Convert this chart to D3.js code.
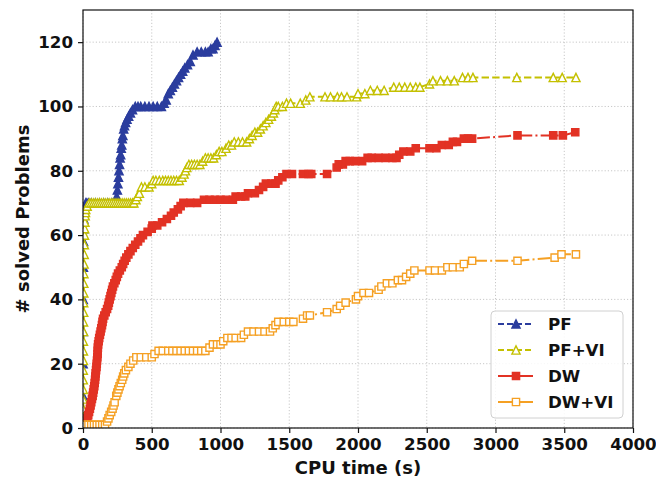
<!DOCTYPE html>
<html>
<head>
<meta charset="utf-8">
<script src="https://cdn.jsdelivr.net/npm/d3@7"></script>
<style>
  html, body { margin: 0; padding: 0; background: #fff; }
  #chart { width: 656px; height: 479px; }
  text { font-family: "DejaVu Sans", sans-serif; font-weight: bold; fill: #111; }
</style>
</head>
<body>
<div id="chart"></div>
<script>
// solved-problem curves: time (s) and # solved
const pfTime = [0, 1, 1, 2, 2, 3, 4, 5, 6, 8, 10, 14, 20, 28, 40, 60, 90, 120, 150, 180, 210, 235, 245, 250, 254, 258, 262, 266, 270, 274, 278, 282, 286, 290, 296, 302, 310, 320, 332, 345, 360, 380, 400, 420, 450, 480, 510, 540, 570, 590, 605, 620, 635, 650, 665, 680, 695, 710, 725, 740, 760, 780, 800, 830, 860, 890, 910, 930, 945, 960, 975];
const pfSolved = [0, 10, 20, 30, 40, 50, 58, 62, 65, 67, 68, 69, 70, 70, 70, 70, 70, 70, 70, 70, 70, 70, 72, 74, 76, 78, 80, 82, 84, 85, 87, 88, 90, 91, 93, 94, 95, 96, 97, 98, 99, 100, 100, 100, 100, 100, 100, 100, 100, 101, 102, 104, 105, 106, 107, 108, 109, 110, 111, 112, 113, 114, 116, 117, 117, 117, 117, 118, 118, 119, 120];

const pfviTime = [0, 1, 1, 1, 2, 2, 2, 3, 3, 3, 4, 4, 5, 5, 6, 6, 7, 8, 9, 10, 11, 12, 14, 16, 18, 20, 30, 45, 60, 75, 90, 105, 120, 135, 150, 165, 180, 195, 210, 225, 240, 255, 270, 285, 300, 315, 330, 345, 360, 370, 385, 395, 410, 425, 450, 480, 500, 510, 530, 555, 580, 600, 620, 640, 660, 680, 700, 720, 735, 745, 755, 770, 790, 810, 830, 850, 870, 890, 910, 930, 950, 970, 990, 1010, 1040, 1060, 1080, 1100, 1130, 1160, 1190, 1210, 1230, 1250, 1270, 1290, 1310, 1330, 1350, 1370, 1385, 1395, 1405, 1420, 1450, 1480, 1510, 1580, 1620, 1650, 1760, 1800, 1850, 1880, 1920, 1990, 2000, 2050, 2090, 2140, 2190, 2260, 2300, 2340, 2380, 2420, 2450, 2520, 2545, 2600, 2650, 2700, 2760, 2800, 2836, 3155, 3420, 3485, 3585];
const pfviSolved = [0, 3, 6, 9, 12, 15, 18, 21, 24, 27, 30, 33, 36, 39, 42, 45, 48, 51, 54, 57, 60, 62, 64, 66, 67, 68, 69, 70, 70, 70, 70, 70, 70, 70, 70, 70, 70, 70, 70, 70, 70, 70, 70, 70, 70, 70, 70, 70, 70, 70, 71, 72, 73, 75, 75, 75, 76, 77, 77, 77, 77, 77, 77, 77, 77, 77, 77, 78, 79, 80, 81, 82, 82, 82, 82, 82, 83, 84, 84, 84, 84, 85, 86, 86, 87, 88, 88, 89, 89, 89, 89, 90, 91, 92, 92, 93, 94, 95, 96, 97, 98, 99, 100, 100, 100, 101, 101, 101, 102, 103, 103, 103, 103, 103, 103, 103, 104, 104, 105, 105, 105, 106, 106, 106, 106, 106, 106, 107, 108, 108, 108, 108, 109, 109, 109, 109, 109, 109, 109];

const dwTime = [15, 25, 32, 38, 44, 50, 55, 60, 65, 70, 74, 78, 82, 85, 88, 90, 92, 95, 98, 100, 102, 104, 106, 107, 108, 110, 114, 118, 123, 128, 133, 138, 142, 146, 155, 165, 175, 183, 188, 194, 200, 206, 212, 218, 228, 238, 246, 255, 268, 282, 292, 303, 315, 330, 345, 362, 380, 400, 418, 436, 470, 500, 505, 540, 575, 610, 640, 660, 690, 710, 730, 780, 830, 880, 920, 960, 1000, 1040, 1090, 1110, 1150, 1180, 1200, 1250, 1280, 1310, 1330, 1370, 1400, 1420, 1450, 1480, 1520, 1600, 1640, 1660, 1775, 1845, 1860, 1890, 1910, 1940, 1980, 2030, 2070, 2100, 2150, 2200, 2250, 2280, 2300, 2330, 2380, 2420, 2520, 2570, 2610, 2660, 2690, 2720, 2770, 2800, 2830, 3160, 3420, 3490, 3580];
const dwSolved = [1, 2, 3, 4, 5, 6, 7, 8, 9, 10, 11, 12, 13, 14, 15, 16, 17, 18, 19, 20, 21, 22, 23, 24, 25, 26, 27, 28, 29, 30, 31, 32, 33, 34, 35, 36, 37, 38, 39, 40, 41, 42, 43, 44, 45, 46, 47, 48, 49, 50, 51, 52, 53, 54, 55, 56, 57, 58, 59, 60, 61, 62, 63, 63, 64, 65, 66, 67, 68, 69, 70, 70, 70, 71, 71, 71, 71, 71, 71, 72, 72, 72, 73, 73, 74, 75, 76, 76, 76, 77, 78, 79, 79, 79, 79, 79, 79, 81, 82, 82, 83, 83, 83, 83, 84, 84, 84, 84, 84, 84, 85, 86, 86, 87, 87, 87, 88, 88, 89, 89, 90, 90, 90, 91, 91, 91, 92];

const dwviTime = [5, 20, 40, 60, 80, 100, 120, 140, 160, 175, 185, 194, 205, 215, 222, 230, 242, 250, 258, 266, 275, 285, 292, 300, 312, 330, 345, 365, 388, 420, 460, 500, 520, 550, 580, 620, 650, 680, 710, 740, 770, 800, 830, 860, 890, 920, 945, 975, 1000, 1020, 1050, 1080, 1110, 1150, 1170, 1200, 1240, 1280, 1320, 1360, 1380, 1400, 1420, 1460, 1500, 1530, 1600, 1630, 1650, 1775, 1845, 1870, 1910, 1985, 2000, 2040, 2080, 2150, 2170, 2210, 2250, 2290, 2320, 2350, 2380, 2410, 2520, 2560, 2610, 2650, 2690, 2740, 2770, 2830, 3160, 3430, 3480, 3585];
const dwviSolved = [1, 1, 1, 1, 1, 1, 1, 1, 1, 2, 3, 4, 5, 6, 7, 8, 10, 11, 12, 13, 14, 15, 16, 17, 18, 19, 20, 21, 22, 22, 22, 22, 23, 24, 24, 24, 24, 24, 24, 24, 24, 24, 24, 24, 24, 25, 26, 26, 26, 27, 28, 28, 28, 28, 29, 30, 30, 30, 30, 30, 31, 32, 33, 33, 33, 33, 34, 35, 35, 36, 37, 38, 39, 40, 41, 42, 42, 43, 44, 45, 45, 46, 46, 47, 48, 49, 49, 49, 49, 50, 50, 50, 51, 52, 52, 53, 54, 54];

const seriesNames = ['PF', 'PF+VI', 'DW', 'DW+VI'];
const xTicks = [0, 500, 1000, 1500, 2000, 2500, 3000, 3500, 4000];
const yTicks = [0, 20, 40, 60, 80, 100, 120];

const series = [
  {name: seriesNames[0], t: pfTime, n: pfSolved, color: '#2b3d9e', dash: '7.4,3.2', shape: 'tri', open: false},
  {name: seriesNames[1], t: pfviTime, n: pfviSolved, color: '#c4c000', dash: '7.4,3.2', shape: 'tri', open: true},
  {name: seriesNames[2], t: dwTime, n: dwSolved, color: '#e23224', dash: '12.8,3.2,2,3.2', shape: 'sq', open: false},
  {name: seriesNames[3], t: dwviTime, n: dwviSolved, color: '#f5a023', dash: '12.8,3.2,2,3.2', shape: 'sq', open: true}
];

const W = 656, H = 479;
const margin = {top: 10, right: 23, bottom: 51, left: 83};
const width = W - margin.left - margin.right;
const height = H - margin.top - margin.bottom;

const svg = d3.select('#chart')
  .append('svg')
    .attr('width', W)
    .attr('height', H);

const g = svg.append('g')
  .attr('transform', 'translate(' + margin.left + ',' + margin.top + ')');

const x = d3.scaleLinear().domain([0, 4000]).range([0, width]);
const y = d3.scaleLinear().domain([0, 130]).range([height, 0]);

svg.append('defs').append('clipPath').attr('id', 'clip')
  .append('rect').attr('width', width).attr('height', height);

// grid
g.append('g').selectAll('line').data(xTicks).enter().append('line')
  .attr('x1', d => x(d)).attr('x2', d => x(d))
  .attr('y1', 0).attr('y2', height)
  .attr('stroke', '#c8c8c8').attr('stroke-width', 1).attr('stroke-dasharray', '1.2,2');
g.append('g').selectAll('line').data(yTicks).enter().append('line')
  .attr('y1', d => y(d)).attr('y2', d => y(d))
  .attr('x1', 0).attr('x2', width)
  .attr('stroke', '#c8c8c8').attr('stroke-width', 1).attr('stroke-dasharray', '1.2,2');

// marker paths, sizes in px
function markerPath(shape) {
  if (shape === 'tri') {
    const s = 8.2;
    return 'M0,' + (-s / 2) + 'L' + (s / 2) + ',' + (s / 2) + 'L' + (-s / 2) + ',' + (s / 2) + 'Z';
  }
  const s = 7.2;
  return 'M' + (-s / 2) + ',' + (-s / 2) + 'h' + s + 'v' + s + 'h' + (-s) + 'Z';
}

const plot = g.append('g').attr('clip-path', 'url(#clip)');

series.forEach(function (s) {
  const pts = s.t.map((t, i) => ({t: t, n: s.n[i]}));
  const line = d3.line().x(d => x(d.t)).y(d => y(d.n));
  plot.append('path')
    .datum(pts)
    .attr('d', line)
    .attr('fill', 'none')
    .attr('stroke', s.color)
    .attr('stroke-width', 2)
    .attr('stroke-dasharray', s.dash);
  plot.append('g').selectAll('path').data(pts).enter().append('path')
    .attr('d', markerPath(s.shape))
    .attr('transform', d => 'translate(' + x(d.t) + ',' + y(d.n) + ')')
    .attr('fill', s.open ? '#fff' : s.color)
    .attr('stroke', s.color)
    .attr('stroke-width', 1.4);
});

// axes
const xAxis = g.append('g')
  .attr('transform', 'translate(0,' + height + ')')
  .call(d3.axisBottom(x).tickValues(xTicks).tickFormat(d3.format('d')).tickSize(5).tickPadding(5));
const yAxis = g.append('g')
  .call(d3.axisLeft(y).tickValues(yTicks).tickFormat(d3.format('d')).tickSize(5).tickPadding(5));
[xAxis, yAxis].forEach(a => {
  a.select('.domain').remove();
  a.selectAll('line').attr('stroke', '#111').attr('stroke-width', 1.2);
  a.selectAll('text').attr('font-size', '16.7px').attr('font-family', '"DejaVu Sans", sans-serif')
    .attr('font-weight', 'bold').attr('fill', '#111');
});

// frame
g.append('rect')
  .attr('width', width).attr('height', height)
  .attr('fill', 'none').attr('stroke', '#111').attr('stroke-width', 1.2);

// axis labels
svg.append('text')
  .attr('x', margin.left + width / 2).attr('y', 474)
  .attr('text-anchor', 'middle').attr('font-size', '18px')
  .text('CPU time (s)');
svg.append('text')
  .attr('transform', 'translate(29,' + (margin.top + height / 2) + ') rotate(-90)')
  .attr('text-anchor', 'middle').attr('font-size', '18px')
  .text('# solved Problems');

// legend
const legend = svg.append('g').attr('transform', 'translate(491,311)');
legend.append('rect')
  .attr('width', 132).attr('height', 107).attr('rx', 4)
  .attr('fill', '#fff').attr('fill-opacity', 0.85)
  .attr('stroke', '#d0d0d0').attr('stroke-width', 1);
series.forEach(function (s, i) {
  const row = legend.append('g').attr('transform', 'translate(0,' + (13 + i * 26) + ')');
  row.append('line')
    .attr('x1', 7).attr('x2', 42).attr('y1', 0).attr('y2', 0)
    .attr('stroke', s.color).attr('stroke-width', 2)
    .attr('stroke-dasharray', s.dash === '7.4,3.2' ? '6,3' : null);
  row.append('path')
    .attr('d', markerPath(s.shape))
    .attr('transform', 'translate(25,0)')
    .attr('fill', s.open ? '#fff' : s.color)
    .attr('stroke', s.color).attr('stroke-width', 1.4);
  row.append('text')
    .attr('x', 57).attr('y', 0).attr('dy', '0.36em')
    .attr('font-size', '16.7px')
    .text(s.name);
});
</script>
</body>
</html>
